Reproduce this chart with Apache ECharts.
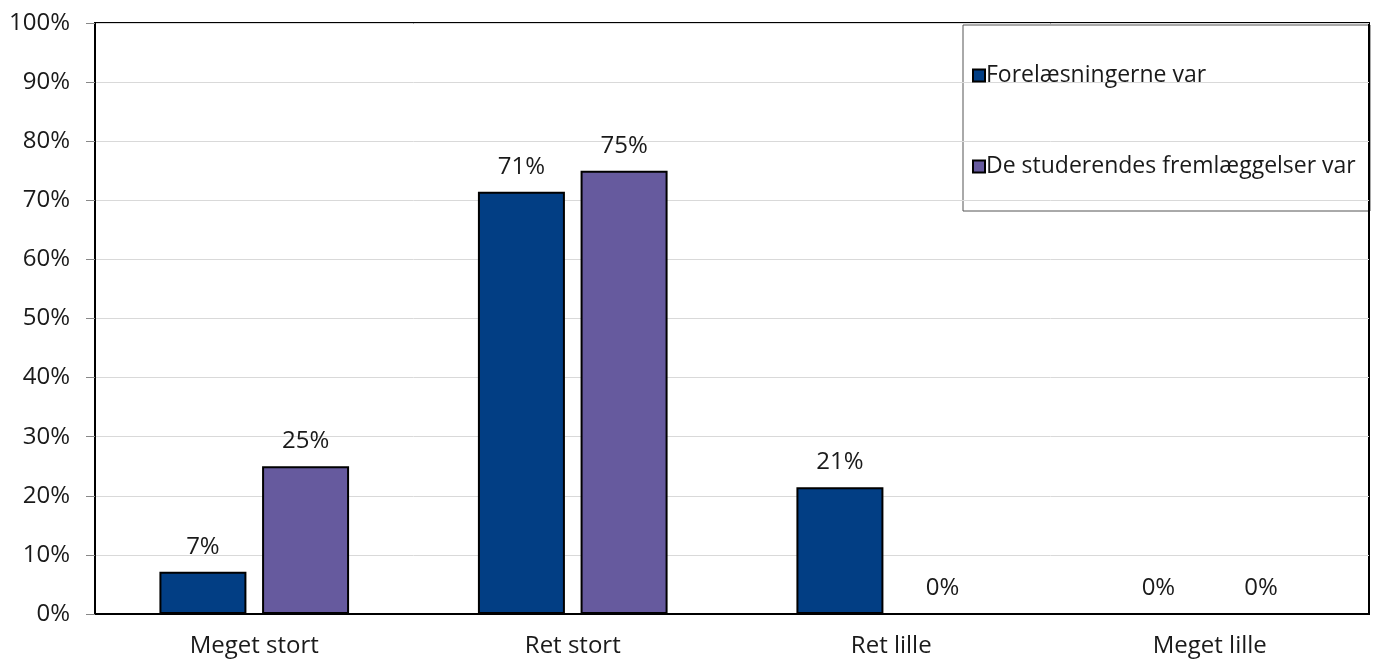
<!DOCTYPE html>
<html><head><meta charset="utf-8">
<script src="https://cdn.jsdelivr.net/npm/echarts@6/dist/echarts.min.js"></script>
<style>html,body{margin:0;padding:0;background:#fff}#c{width:1383px;height:661px}</style>
</head><body><div id="c"></div>
<script>
const categories = ['Meget stort', 'Ret stort', 'Ret lille', 'Meget lille'];
const seriesNames = ['Forelæsningerne var', 'De studerendes fremlæggelser var'];
const forelaesninger = [7.14, 71.43, 21.43, 0];
const fremlaeggelser = [25, 75, 0, 0];
const yTicks = [0,10,20,30,40,50,60,70,80,90,100];

const FONT = '"Open Sans", sans-serif';
const chart = echarts.init(document.getElementById('c'));
function barSeries(name, data, color) {
  return {
    name, type: 'bar', data,
    barWidth: 87, barGap: '18%',
    itemStyle: { color, borderColor: '#000', borderWidth: 2 },
    label: { show: true, position: 'top', distance: 13, color: '#1a1a1a', fontFamily: FONT, fontSize: 24,
      formatter: p => Math.round(p.value) + '%' }
  };
}
chart.setOption({
  animation: false,
  grid: { left: 95, right: 14, top: 23, bottom: 47, show: true, borderColor: '#000', borderWidth: 2 },
  legend: {
    orient: 'vertical', left: 967, top: 59, itemGap: 68,
    itemWidth: 12, itemHeight: 12, icon: 'rect',
    textStyle: { fontFamily: FONT, fontSize: 23, color: '#1a1a1a', padding: [0,0,0,-4] },
    data: seriesNames
  },
  graphic: [{ type: 'rect', shape: { x: 963, y: 25, width: 407, height: 186 },
    style: { fill: '#fff', stroke: '#555', lineWidth: 1 }, z: -1, zlevel: 0 }],
  xAxis: {
    type: 'category', data: categories,
    axisLine: { lineStyle: { color: '#000', width: 2 } },
    axisTick: { show: false },
    axisLabel: { fontFamily: FONT, fontSize: 24, color: '#1a1a1a', margin: 20 }
  },
  yAxis: {
    type: 'value', min: 0, max: 100, interval: 10,
    axisLine: { show: true, lineStyle: { color: '#000', width: 2 } },
    axisTick: { show: true, length: 9, lineStyle: { color: '#888' } },
    splitLine: { lineStyle: { color: '#d9d9d9' } },
    axisLabel: { fontFamily: FONT, fontSize: 24, color: '#1a1a1a', margin: 25,
      formatter: v => yTicks.includes(v) ? v + '%' : '' }
  },
  series: [
    barSeries(seriesNames[0], forelaesninger, '#023E84'),
    barSeries(seriesNames[1], fremlaeggelser, '#665A9E')
  ]
});
</script></body></html>
